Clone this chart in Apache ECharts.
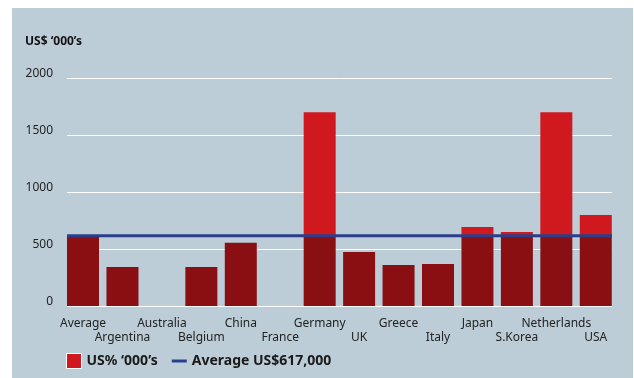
<!DOCTYPE html>
<html>
<head>
<meta charset="utf-8">
<script src="https://cdn.jsdelivr.net/npm/echarts@6/dist/echarts.min.js"></script>
<style>
html,body{margin:0;padding:0;background:#fff;}
#chart{width:634px;height:378px;}
</style>
</head>
<body>
<div id="chart"></div>
<script>
const categories = ['Average','Argentina','Australia','Belgium','China','France','Germany','UK','Greece','Italy','Japan','S.Korea','Netherlands','USA'];
const values = [617, 342, 0, 342, 555, 0, 1700, 474, 360, 368, 693, 649, 1700, 798];
const averageValue = 617;
const yTicks = [0, 500, 1000, 1500, 2000];
const seriesName = 'US% ‘000’s';
const averageName = 'Average US$617,000';
const titleText = 'US$ ‘000’s';

const FONT = 'Noto Sans';
const darkPart = values.map(v => Math.min(v, averageValue));
const brightPart = values.map(v => Math.max(v - averageValue, 0));

const chart = echarts.init(document.getElementById('chart'), null, {renderer: 'canvas'});
chart.setOption({
  animation: false,
  backgroundColor: '#ffffff',
  graphic: [{
    type: 'rect', z: -10, silent: true,
    shape: {x: 12, y: 8, width: 621, height: 370},
    style: {fill: '#bdcdd7'}
  }],
  title: {
    text: titleText, left: 20, top: 31,
    textStyle: {fontFamily: FONT, fontSize: 12, fontWeight: 'bold', color: '#111'}
  },
  legend: {
    left: 61, top: 348, itemWidth: 15, itemHeight: 15, itemGap: 14,
    symbolKeepAspect: true,
    textStyle: {fontFamily: FONT, fontSize: 14, fontWeight: 'bold', color: '#1a1a1a'},
    data: [
      {name: seriesName, icon: 'rect', itemStyle: {color: '#d0181f', borderColor: '#ffffff', borderWidth: 1}},
      {name: averageName, icon: 'path://M0,0L15,0L15,3L0,3Z', itemStyle: {color: '#2a3f8c'}}
    ]
  },
  grid: [
    {left: 63.3, right: 18.5, top: 78, bottom: 72},
    {left: 67, right: 22, top: 78, bottom: 72}
  ],
  xAxis: [
    {
      type: 'category', gridIndex: 0, data: categories,
      axisLine: {show: false}, axisTick: {show: false},
      axisLabel: {
        interval: 0, margin: 11, fontFamily: FONT, fontSize: 12, color: '#222', lineHeight: 14,
        formatter: (v, i) => (i % 2 ? '\n' + v : v)
      }
    },
    {
      type: 'category', gridIndex: 1, data: categories, boundaryGap: false, show: false
    }
  ],
  yAxis: [
    {type: 'value', gridIndex: 0, min: 0, max: 2000, interval: 500, show: false, splitLine: {show: false}},
    {
      type: 'value', gridIndex: 1, min: yTicks[0], max: yTicks[yTicks.length - 1], interval: 500,
      axisLine: {show: false}, axisTick: {show: false},
      splitLine: {show: true, lineStyle: {color: '#ffffff', width: 1}},
      axisLabel: {margin: 14, fontFamily: FONT, fontSize: 12, color: '#222',
        verticalAlign: 'bottom', lineHeight: 9,
        formatter: v => String(v)}
    }
  ],
  series: [
    {
      name: 'below', type: 'bar', stack: 'v', xAxisIndex: 0, yAxisIndex: 0,
      barWidth: 32, data: darkPart, itemStyle: {color: '#8a0f12'}, z: 2
    },
    {
      name: seriesName, type: 'bar', stack: 'v', xAxisIndex: 0, yAxisIndex: 0,
      barWidth: 32, data: brightPart, itemStyle: {color: '#d0181f'}, z: 2
    },
    {
      name: averageName, type: 'line', xAxisIndex: 1, yAxisIndex: 1,
      data: categories.map(() => averageValue), symbol: 'none', showSymbol: false,
      lineStyle: {color: '#2a3f8c', width: 3}, itemStyle: {color: '#2a3f8c'}, z: 5
    }
  ]
});
</script>
</body>
</html>
